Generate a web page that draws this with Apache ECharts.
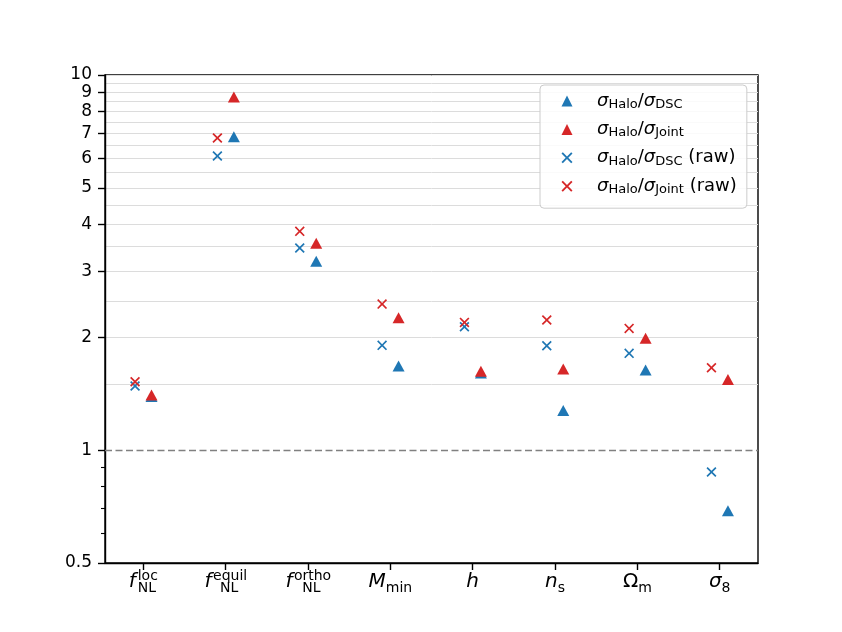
<!DOCTYPE html>
<html>
<head>
<meta charset="utf-8">
<script src="https://cdn.jsdelivr.net/npm/echarts@6/dist/echarts.min.js"></script>
<style>
html,body{margin:0;padding:0;background:#fff;}
#main{width:842px;height:632px;}
</style>
</head>
<body>
<div id="main"></div>
<script>
// ---------- data ----------
const CAT_SYM = ['f', 'f', 'f', 'M', 'h', 'n', 'Ω', 'σ'];
const CAT_ITALIC = [true, true, true, true, true, true, false, true];
const CAT_SUB = ['NL', 'NL', 'NL', 'min', '', 's', 'm', '8'];
const CAT_SUP = ['loc', 'equil', 'ortho', '', '', '', '', ''];
const CAT_IDX = [0, 1, 2, 3, 4, 5, 6, 7];

// sigma_Halo / sigma_DSC (triangles, blue)
const TRI_DSC = [1.389, 6.85, 3.188, 1.675, 1.605, 1.276, 1.634, 0.689];
// sigma_Halo / sigma_Joint (triangles, red)
const TRI_JOINT = [1.402, 8.735, 3.56, 2.253, 1.622, 1.644, 1.986, 1.543];
// sigma_Halo / sigma_DSC (raw) (crosses, blue)
const RAW_DSC = [1.482, 6.08, 3.457, 1.902, 2.132, 1.898, 1.811, 0.874];
// sigma_Halo / sigma_Joint (raw) (crosses, red)
const RAW_JOINT = [1.521, 6.79, 3.83, 2.45, 2.19, 2.222, 2.111, 1.658];

const Y_TICKS = [0.5, 1, 2, 3, 4, 5, 6, 7, 8, 9, 10];
const Y_MINOR = [0.6, 0.7, 0.8, 0.9];
const Y_GRID = [1.5, 2, 2.5, 3, 3.5, 4, 4.5, 5, 5.5, 6, 6.5, 7, 7.5, 8, 8.5, 9, 9.5, 10];
const REF_LINE = 1;

const SERIES_NAMES = ['σHalo/σDSC', 'σHalo/σJoint', 'σHalo/σDSC (raw)', 'σHalo/σJoint (raw)'];
const LEGEND_DEN = ['DSC', 'Joint', 'DSC', 'Joint'];
const LEGEND_SUFFIX = ['', '', ' (raw)', ' (raw)'];

// ---------- styling ----------
const FONT = 'DejaVu Sans';
const BLUE = '#1f77b4';
const RED = '#d62728';
const X_OFF_CROSS = -0.1;
const X_OFF_TRI = 0.1;
const TRI_PATH = 'path://M5,0L10,10L0,10Z';
const X_PATH = 'path://M0,1.2L1.2,0L5,3.8L8.8,0L10,1.2L6.2,5L10,8.8L8.8,10L5,6.2L1.2,10L0,8.8L3.8,5Z';

const SUP_W = [22, 35, 38];

function mainLabel(i) {
  const symStyle = CAT_ITALIC[i] ? 'it' : 'up';
  let s = '{' + symStyle + '|' + CAT_SYM[i] + '}';
  if (CAT_SUP[i]) s += '{nl' + i + '|' + CAT_SUB[i] + '}';
  else if (CAT_SUB[i]) s += '{sb|' + CAT_SUB[i] + '}';
  return s;
}
function supLabel(i) {
  if (!CAT_SUP[i]) return '';
  return '{ith|' + CAT_SYM[i] + '}{sp' + i + '|' + CAT_SUP[i] + '}';
}

const mainRich = {
  it: {fontFamily: FONT, fontStyle: 'italic', fontSize: 20, lineHeight: 26, color: '#000'},
  up: {fontFamily: FONT, fontSize: 20, lineHeight: 26, color: '#000'},
  sb: {fontFamily: FONT, fontSize: 14, lineHeight: 17, verticalAlign: 'bottom', color: '#000'}
};
const supRich = {
  ith: {fontFamily: FONT, fontStyle: 'italic', fontSize: 20, lineHeight: 26, color: 'rgba(0,0,0,0)'}
};
SUP_W.forEach((w, i) => {
  mainRich['nl' + i] = {fontFamily: FONT, fontSize: 14, lineHeight: 2, verticalAlign: 'bottom', width: w, align: 'left', color: '#000'};
  supRich['sp' + i] = {fontFamily: FONT, fontSize: 14, lineHeight: 33, verticalAlign: 'top', width: w - 2, padding: [0, 0, 0, 2], align: 'left', color: '#000'};
});

function legendLabel(k) {
  return '{gap| }{g|σ}{s|Halo}{t|/}{g|σ}{s|' + LEGEND_DEN[k] + '}' + (LEGEND_SUFFIX[k] ? '{t|' + LEGEND_SUFFIX[k] + '}' : '');
}

const pts = (vals, off) => vals.map((v, i) => [CAT_IDX[i] + off, v]);

const axisLineStyle = {color: '#000', width: 1.4};
const yBase = {type: 'log', logBase: 10, min: 0.5, max: 10, position: 'left', offset: 0};

const chart = echarts.init(document.getElementById('main'), null, {renderer: 'canvas'});
chart.setOption({
  animation: false,
  backgroundColor: '#fff',
  grid: {left: 105, right: 84, top: 75, bottom: 69, show: true, borderColor: '#000', borderWidth: 1.4, backgroundColor: 'transparent'},
  xAxis: [
    {
      type: 'value', min: -0.465, max: 7.465, position: 'bottom',
      axisLine: {show: true, onZero: false, lineStyle: axisLineStyle},
      axisTick: {show: true, length: 7, lineStyle: axisLineStyle, customValues: CAT_IDX},
      axisLabel: {customValues: CAT_IDX, margin: 6, formatter: v => mainLabel(Math.round(v)), rich: mainRich},
      splitLine: {show: false}
    },
    {
      type: 'value', min: -0.465, max: 7.465, position: 'bottom', offset: 0,
      axisLine: {show: false, onZero: false},
      axisTick: {show: false, customValues: [0, 1, 2]},
      axisLabel: {customValues: [0, 1, 2], margin: 6, formatter: v => supLabel(Math.round(v)), rich: supRich},
      splitLine: {show: false}
    }
  ],
  yAxis: [
    Object.assign({}, yBase, {
      axisLine: {show: true, onZero: false, lineStyle: axisLineStyle},
      axisTick: {show: true, length: 7, lineStyle: axisLineStyle, customValues: Y_TICKS},
      axisLabel: {customValues: Y_TICKS, margin: 13, fontSize: 17, fontFamily: FONT, color: '#000',
        formatter: v => String(parseFloat(Number(v).toPrecision(4)))},
      splitLine: {show: false}
    }),
    Object.assign({}, yBase, {
      axisLine: {show: false, onZero: false},
      axisTick: {show: false, customValues: Y_GRID},
      axisLabel: {show: false},
      splitLine: {show: true, lineStyle: {color: '#dcdcdc', width: 1}}
    }),
    Object.assign({}, yBase, {
      axisLine: {show: false, onZero: false},
      axisTick: {show: true, length: 4, lineStyle: {color: '#000', width: 1.1}, customValues: Y_MINOR},
      axisLabel: {show: false},
      splitLine: {show: false}
    })
  ],
  legend: {
    orient: 'vertical', left: 540, top: 85,
    itemWidth: 11, itemHeight: 11, itemGap: 9.4,
    padding: [7, 10, 12, 21.5],
    backgroundColor: 'rgba(255,255,255,0.85)', borderColor: '#cccccc', borderWidth: 1, borderRadius: 4,
    selectedMode: false,
    data: [
      {name: SERIES_NAMES[0], icon: TRI_PATH},
      {name: SERIES_NAMES[1], icon: TRI_PATH},
      {name: SERIES_NAMES[2], icon: X_PATH},
      {name: SERIES_NAMES[3], icon: X_PATH}
    ],
    formatter: name => legendLabel(SERIES_NAMES.indexOf(name)),
    textStyle: {
      rich: {
        gap: {fontSize: 10, width: 19.5, lineHeight: 20},
        g: {fontFamily: FONT, fontStyle: 'italic', fontSize: 18, lineHeight: 20, color: '#000'},
        t: {fontFamily: FONT, fontSize: 18, lineHeight: 20, color: '#000'},
        s: {fontFamily: FONT, fontSize: 13, lineHeight: 12, verticalAlign: 'bottom', color: '#000'}
      }
    }
  },
  series: [
    {
      name: SERIES_NAMES[0], type: 'scatter', xAxisIndex: 0, yAxisIndex: 0,
      symbol: 'triangle', symbolSize: [12, 11], itemStyle: {color: BLUE, opacity: 1},
      data: pts(TRI_DSC, X_OFF_TRI), z: 3,
      markLine: {
        silent: true, symbol: 'none', label: {show: false},
        lineStyle: {color: '#808080', type: [7, 3.5], width: 1.4},
        data: [{yAxis: REF_LINE}]
      }
    },
    {
      name: SERIES_NAMES[1], type: 'scatter', xAxisIndex: 0, yAxisIndex: 0,
      symbol: 'triangle', symbolSize: [12, 11], itemStyle: {color: RED, opacity: 1},
      data: pts(TRI_JOINT, X_OFF_TRI), z: 4
    },
    {
      name: SERIES_NAMES[2], type: 'scatter', xAxisIndex: 0, yAxisIndex: 0,
      symbol: X_PATH, symbolSize: 10, itemStyle: {color: BLUE, opacity: 1},
      data: pts(RAW_DSC, X_OFF_CROSS), z: 5
    },
    {
      name: SERIES_NAMES[3], type: 'scatter', xAxisIndex: 0, yAxisIndex: 0,
      symbol: X_PATH, symbolSize: 10, itemStyle: {color: RED, opacity: 1},
      data: pts(RAW_JOINT, X_OFF_CROSS), z: 6
    }
  ]
});
</script>
</body>
</html>
